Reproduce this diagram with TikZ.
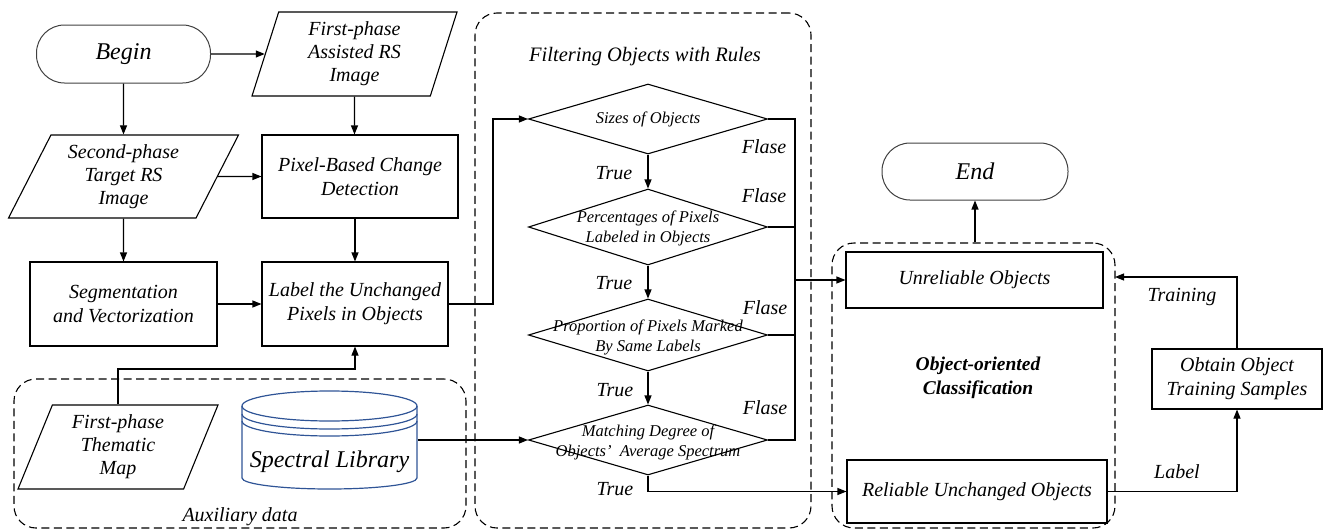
\documentclass[tikz,border=0pt]{standalone}
\usepackage{fontspec}
\setmainfont{Liberation Serif}
\usetikzlibrary{shapes.geometric,arrows.meta,calc}
\definecolor{dbblue}{RGB}{47,84,150}

\begin{document}
\begin{tikzpicture}[x=1pt,y=-1pt,
  line width=1.1pt,
  arr/.style={-{Triangle[length=9pt,width=7pt]}},
  boxtxt/.style={font=\fontsize{20}{24}\selectfont\itshape, align=center},
  stepbox/.style={draw, rectangle, boxtxt, inner sep=0pt},
  term/.style={draw=black!75, line width=1pt, rectangle, rounded corners=28pt,
    font=\fontsize{24}{28}\selectfont\itshape, inner sep=0pt},
  iobox/.style={draw, trapezium, trapezium stretches body, align=center,
    font=\fontsize{20}{23}\selectfont\itshape, inner sep=0pt},
  decide/.style={draw, diamond, inner sep=0pt},
  dtxt/.style={font=\fontsize{16.5}{20}\selectfont\itshape, align=center, inner sep=0pt},
  tag/.style={font=\fontsize{20}{24}\selectfont\itshape, inner sep=0pt},
  group/.style={draw, dash pattern=on 8pt off 4.5pt, rounded corners=22pt,
    rectangle, inner sep=0pt, line width=1.1pt},
  cyl/.style={draw=dbblue, line width=1.2pt},
]
\useasboundingbox (0,0) rectangle (1326,530);

% dashed groups
\node[group, minimum width=336pt, minimum height=515pt] (filt) at (643,270.5) {};
\node[group, minimum width=452pt, minimum height=149pt] (aux) at (240,453.5) {};
\node[group, minimum width=283pt, minimum height=285pt] (oo) at (973.5,385.5) {};
\node[font=\fontsize{20.5}{24}\selectfont\itshape, inner sep=0pt] (filtt) at (645,57) {Filtering Objects with Rules};
\node[tag] (auxt) at (240,517) {Auxiliary data};
\node[font=\fontsize{19.5}{24}\selectfont\bfseries\itshape, align=center] (oot) at (978,378)
  {Object-oriented\\Classification};

% left column
\node[term, minimum width=174pt, minimum height=58pt] (begin) at (123.5,54) {Begin};
\node[iobox, trapezium left angle=67.4, trapezium right angle=112.6,
  minimum width=205pt, minimum height=84pt] (fa) at (354.5,54) {First-phase\\Assisted RS\\Image};
\node[iobox, trapezium left angle=56.5, trapezium right angle=123.5,
  minimum width=230pt, minimum height=83pt] (sp) at (123.5,176.5) {Second-phase\\Target RS\\Image};
\node[stepbox, minimum width=196pt, minimum height=83pt] (pbcd) at (360,176.5) {Pixel-Based Change\\Detection};
\node[stepbox, minimum width=187pt, minimum height=84pt] (seg) at (123.5,304) {Segmentation\\and Vectorization};
\node[stepbox, minimum width=186pt, minimum height=84pt] (lab) at (355,304) {Label the Unchanged\\Pixels in Objects};
\node[iobox, trapezium left angle=61.8, trapezium right angle=118.2,
  minimum width=200pt, minimum height=84pt] (tm) at (118,447) {First-phase\\Thematic\\Map};

% spectral library cylinder
\node[minimum width=175pt, minimum height=100pt, inner sep=0pt] (spec) at (329.5,440) {};
\draw[cyl] (329.5,406) ellipse [x radius=87.5pt, y radius=15pt];
\draw[cyl] (242,414) arc[start angle=180, end angle=360, x radius=87.5pt, y radius=15pt];
\draw[cyl] (242,421) arc[start angle=180, end angle=360, x radius=87.5pt, y radius=15pt];
\draw[cyl] (242,406) -- (242,478) arc[start angle=180, end angle=360, x radius=87.5pt, y radius=11pt] -- (417,406);
\node[font=\fontsize{24}{28}\selectfont\itshape, inner sep=0pt] (spect) at (329.5,462) {Spectral Library};

% rule diamonds
\node[decide, minimum width=239pt, minimum height=70pt] (d1) at (648,119) {};
\node[decide, minimum width=239pt, minimum height=76pt] (d2) at (648,227) {};
\node[decide, minimum width=239pt, minimum height=72pt] (d3) at (648,335) {};
\node[decide, minimum width=239pt, minimum height=70pt] (d4) at (648,440) {};
\node[dtxt] (d1t) at (d1) {Sizes of Objects};
\node[dtxt] (d2t) at (648,228) {Percentages of Pixels\\Labeled in Objects};
\node[dtxt] (d3t) at (648,337) {Proportion of Pixels Marked\\By Same Labels};
\node[dtxt] (d4t) at (648,442) {Matching Degree of\\Objects’\ \ Average Spectrum};

\node[tag] (t1) at (614,173) {True};
\node[tag] (t2) at (614,283) {True};
\node[tag] (t3) at (615,390) {True};
\node[tag] (t4) at (615,489) {True};
\node[tag] (f1) at (764,147) {Flase};
\node[tag] (f2) at (764,196) {Flase};
\node[tag] (f3) at (765,308) {Flase};
\node[tag] (f4) at (765,408) {Flase};

% right side
\node[term, minimum width=186pt, minimum height=57pt] (end) at (975,171.5) {End};
\node[stepbox, minimum width=257pt, minimum height=56pt] (unrel) at (974.5,280) {Unreliable Objects};
\node[stepbox, minimum width=260pt, minimum height=63pt] (rel) at (977,491.5) {Reliable Unchanged Objects};
\node[stepbox, minimum width=170pt, minimum height=60pt] (obtain) at (1237,379) {Obtain Object\\Training Samples};
\node[tag] (lblt) at (1177,472) {Label};
\node[tag] (trt) at (1182,297) {Training};

% connectors
\coordinate (tmbend) at (118,369);
\coordinate (lbend) at (493,304);
\coordinate (bus) at (795,119);
\coordinate (trn) at (1115,277);

\draw[arr] (begin) -- (fa);
\draw[arr] (begin) -- (sp);
\draw[arr] (fa) -- (fa |- pbcd.north);
\draw[arr] (sp) -- (pbcd);
\draw[arr] (sp) -- (seg);
\draw[arr] (lab |- pbcd.south) -- (lab.north);
\draw[arr] (seg) -- (lab);
\draw[arr] (tm) -- (tmbend) -| (lab.south);
\draw[arr] (lab.east) -- (lbend) |- (d1.west);
\draw[arr] (d1) -- (d2);
\draw[arr] (d2) -- (d3);
\draw[arr] (d3) -- (d4);
\draw (d1.east) -- (bus) -- (bus |- d4.east) -- (d4.east);
\draw (d2.east) -- (d2.east -| bus);
\draw (d3.east) -- (d3.east -| bus);
\draw[arr] (bus |- unrel.west) -- (unrel.west);
\draw[arr] (d4.south) |- (rel.west);
\draw[arr] (spec.east) -- (d4.west);
\draw[arr] (end.south |- oo.north) -- (end.south);
\draw[arr] (rel.east) -| (obtain.south);
\draw[arr] (obtain.north) |- (trn);
\end{tikzpicture}
\end{document}
